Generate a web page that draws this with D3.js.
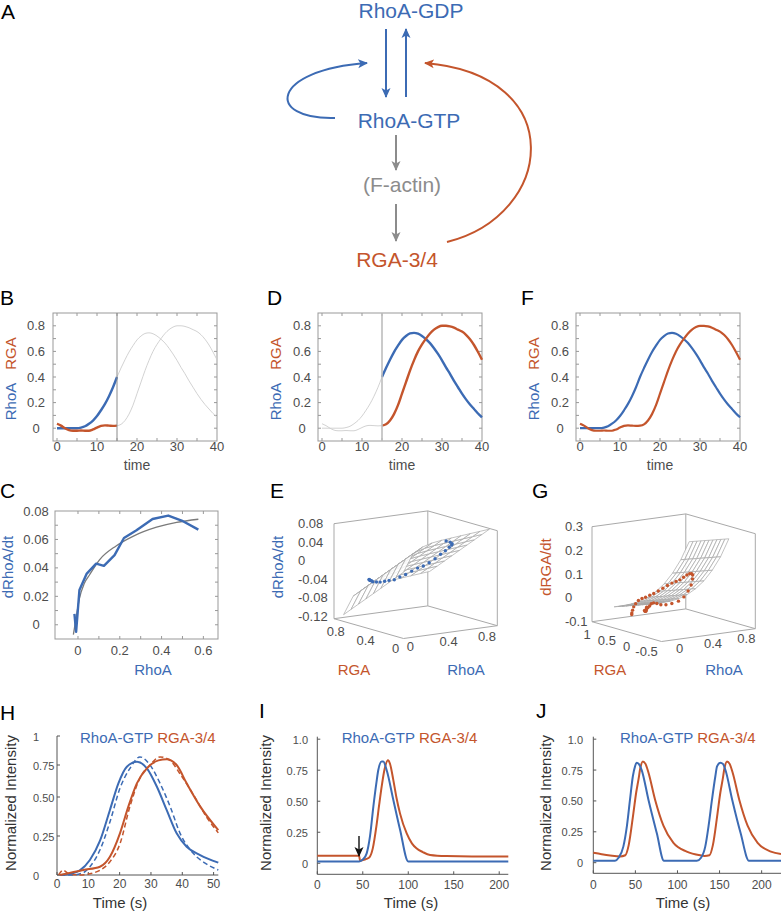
<!DOCTYPE html>
<html>
<head>
<meta charset="utf-8">
<title>RhoA / RGA-3/4 model</title>
<script src="https://cdnjs.cloudflare.com/ajax/libs/d3/7.8.5/d3.min.js"></script>
<style>
  body { margin: 0; background: #fff; }
  svg { display: block; font-family: "Liberation Sans", Arial, Helvetica, sans-serif; }
</style>
</head>
<body>
<div id="fig"></div>
<script>
// ---------- data ----------

// B, D, F : measured RhoA / RGA traces
var timeF = [0,1,2,3,4,5,6,7,8,9,10,11,12,13,14,15,16,17,18,19,20,21,22,23,24,25,26,27,28,29,30,31,32,33,34,35,36,37,38,39,40];
var rhoaF = [0,0,0,0,0,0,0.005,0.015,0.035,0.06,0.095,0.14,0.19,0.25,0.32,0.40,0.47,0.535,0.595,0.645,0.69,0.72,0.74,0.745,0.738,0.72,0.695,0.665,0.625,0.58,0.53,0.475,0.425,0.37,0.32,0.27,0.225,0.185,0.15,0.115,0.085];
var rgaF  = [0.035,0.02,0,-0.015,-0.02,-0.02,-0.018,-0.02,-0.02,-0.01,0.005,0.018,0.022,0.02,0.018,0.02,0.03,0.06,0.11,0.18,0.27,0.36,0.45,0.53,0.6,0.655,0.7,0.74,0.77,0.79,0.8,0.8,0.795,0.785,0.77,0.755,0.73,0.695,0.65,0.595,0.535];

// C : dRhoA/dt vs RhoA (data and saturating fit)
var rhoaC  = [-0.017,-0.009,0.007,0.042,0.087,0.124,0.175,0.22,0.28,0.357,0.432,0.496,0.576];
var dRhoaC = [0.0076,-0.005,0.0245,0.036,0.043,0.0414,0.049,0.061,0.0664,0.0744,0.0768,0.0733,0.0669];
var fitRhoaC  = [-0.022,-0.01,0.007,0.03,0.055,0.103,0.184,0.263,0.376,0.472,0.576];
var fitDRhoaC = [-0.0069,0.004,0.0186,0.029,0.035,0.0457,0.0556,0.0622,0.0686,0.072,0.0742];

// E : fitted surface dRhoA/dt(RhoA, RGA) and data points (t = 16..40)
var gridRhoaE = [0,0.1,0.2,0.3,0.4,0.5,0.6,0.7,0.8,0.9];
var gridRgaE  = [0,0.1,0.2,0.3,0.4,0.5,0.6,0.7,0.8];
var surfE = [
  [0.015,0.052,0.064,0.070,0.073,0.075,0.077,0.079,0.081,0.083],
  [-0.001,0.036,0.048,0.054,0.057,0.059,0.061,0.063,0.065,0.067],
  [-0.017,0.020,0.032,0.038,0.041,0.043,0.045,0.047,0.049,0.051],
  [-0.033,0.004,0.016,0.022,0.025,0.027,0.029,0.031,0.033,0.035],
  [-0.049,-0.012,0.000,0.006,0.009,0.011,0.013,0.015,0.017,0.019],
  [-0.065,-0.028,-0.016,-0.010,-0.007,-0.005,-0.003,-0.001,0.001,0.003],
  [-0.081,-0.044,-0.032,-0.026,-0.023,-0.021,-0.019,-0.017,-0.015,-0.013],
  [-0.097,-0.060,-0.048,-0.042,-0.039,-0.037,-0.035,-0.033,-0.031,-0.029],
  [-0.113,-0.076,-0.064,-0.058,-0.055,-0.053,-0.051,-0.049,-0.047,-0.045]
];
var dotsRhoaE = [0.47,0.535,0.595,0.645,0.69,0.72,0.74,0.745,0.738,0.72,0.695,0.665,0.625,0.58,0.53,0.475,0.425,0.37,0.32,0.27,0.225,0.185,0.15,0.115,0.085];
var dotsRgaE  = [0.03,0.06,0.11,0.18,0.27,0.36,0.45,0.53,0.6,0.655,0.7,0.74,0.77,0.79,0.8,0.8,0.795,0.785,0.77,0.755,0.73,0.695,0.65,0.595,0.535];
var dotsDE    = [0.068,0.0625,0.055,0.0475,0.0375,0.025,0.0125,-0.001,-0.0125,-0.0215,-0.0275,-0.035,-0.0425,-0.0475,-0.0525,-0.0525,-0.0525,-0.0525,-0.05,-0.0475,-0.0425,-0.0375,-0.035,-0.0325,-0.03];

// G : fitted surface dRGA/dt(RhoA, RGA) and data points (t = 0..40)
var gridRhoaG = [0,0.1,0.2,0.3,0.4,0.5,0.6,0.7,0.8,0.9];
var gridRgaG  = [-0.2,-0.1,0,0.1,0.2,0.3,0.4,0.5,0.6,0.7,0.8];
var surfG = [
  [0.024,0.024,0.026,0.032,0.044,0.064,0.092,0.132,0.184,0.255],
  [0.018,0.018,0.020,0.026,0.038,0.058,0.086,0.126,0.178,0.249],
  [0.012,0.012,0.014,0.020,0.032,0.052,0.080,0.120,0.172,0.243],
  [0.006,0.006,0.008,0.014,0.026,0.046,0.074,0.114,0.166,0.237],
  [0.000,0.000,0.002,0.008,0.020,0.040,0.068,0.108,0.160,0.231],
  [-0.006,-0.006,-0.004,0.002,0.014,0.034,0.062,0.102,0.154,0.225],
  [-0.012,-0.012,-0.010,-0.004,0.008,0.028,0.056,0.096,0.148,0.219],
  [-0.018,-0.018,-0.016,-0.010,0.002,0.022,0.050,0.090,0.142,0.213],
  [-0.024,-0.024,-0.022,-0.016,-0.004,0.016,0.044,0.084,0.136,0.207],
  [-0.030,-0.030,-0.028,-0.022,-0.010,0.010,0.038,0.078,0.130,0.201],
  [-0.036,-0.036,-0.034,-0.028,-0.016,0.004,0.032,0.072,0.124,0.195]
];
var dotsDG = [-0.015,-0.018,-0.017,-0.01,-0.003,0.001,0,-0.001,0.005,0.0125,0.014,0.0085,0.001,-0.002,0,0.006,0.02,0.04,0.06,0.08,0.09,0.09,0.085,0.075,0.0625,0.05,0.0425,0.035,0.025,0.015,0.005,-0.0025,-0.0075,-0.0125,-0.015,-0.02,-0.03,-0.04,-0.05,-0.0575,-0.06];

// H : measured (dashed) and model (solid) intensities
var hBlueT = [1,4.7,7.3,10.5,13.7,16.9,19.6,22.3,25.5,28.7,31.9,35,38.2,41.4,45.7,51.5];
var hBlue  = [0,0.01,0.03,0.096,0.218,0.417,0.607,0.737,0.778,0.724,0.58,0.417,0.267,0.181,0.128,0.079];
var hBlueDT = [1,4.7,8.4,10.5,13.7,16.9,20.1,23.3,26.5,29.7,32.9,36.1,39.3,43.5,47.8,51.5];
var hBlueD  = [0,0,0.015,0.053,0.16,0.34,0.568,0.724,0.82,0.75,0.607,0.44,0.267,0.139,0.07,0.032];
var hOrT = [1,8.4,13.7,16.9,20.1,22.8,25.5,28.7,32.4,35,38.2,41.4,45.7,51.5];
var hOr  = [0,0.032,0.053,0.117,0.267,0.44,0.607,0.724,0.79,0.8,0.75,0.607,0.44,0.288];
var hOrDT = [0.5,2,3.6,7.3,11.6,13.7,16.9,20.1,23.3,26.5,29.7,32.9,36.1,39.3,43.5,47.8,51.5];
var hOrD  = [0,0.03,0.01,0,0.013,0.03,0.085,0.2,0.44,0.65,0.75,0.82,0.79,0.68,0.52,0.37,0.27];

// I : single pulse after stimulus
var iBlueT = [0,46,50,54.3,58,61.6,65,67,70.8,72.5,76.3,83.6,91,100,210];
var iBlue  = [0.015,0.015,0.03,0.08,0.22,0.455,0.65,0.75,0.82,0.82,0.75,0.51,0.27,0.015,0.015];
var iOrT = [0,46,47,50,54,57.5,61,65,68,70.8,74,77.7,80,83.6,87,91,98.3,104,109,116,124,142,170,210];
var iOr  = [0.06,0.06,0.02,0.025,0.035,0.05,0.12,0.3,0.47,0.62,0.76,0.83,0.8,0.67,0.53,0.4,0.24,0.16,0.12,0.09,0.067,0.058,0.055,0.055];

// J : oscillations
var jBlueT = [0,25.8,30,35.7,40,43.6,47,49.6,51.6,54,57.5,65.5,75.4,84,123,128,133,137,141,145,147,151,154,157,165,175,185,223];
var jBlue  = [0.015,0.015,0.04,0.13,0.3,0.51,0.7,0.78,0.81,0.8,0.75,0.51,0.24,0.015,0.015,0.04,0.13,0.3,0.51,0.7,0.78,0.81,0.8,0.75,0.51,0.24,0.015,0.015];
var jOrT = [0,10,20,32,38,42,47.6,51,53.6,56,58.8,62,65.5,73.4,83.3,95.2,111,127,132,138,142,147.6,151,153.6,156,158.8,162,165.5,173.4,183.3,195.2,211,223];
var jOr  = [0.08,0.068,0.058,0.05,0.06,0.14,0.40,0.57,0.67,0.77,0.82,0.8,0.73,0.51,0.30,0.16,0.09,0.06,0.055,0.06,0.14,0.40,0.57,0.67,0.77,0.82,0.8,0.73,0.51,0.30,0.16,0.09,0.07];

// ---------- drawing ----------
var blue = "#3c6bb4", orange = "#c4552c", tickCol = "#4d4d4d", frameCol = "#999";

var svg = d3.select("#fig").append("svg").attr("width", 781).attr("height", 914);
svg.append("rect").attr("width", 781).attr("height", 914).attr("fill", "#fff");
var defs = svg.append("defs");

function marker(id, color) {
	defs.append("marker")
		.attr("id", id)
		.attr("viewBox", "0 -5 10 10")
		.attr("refX", 9).attr("refY", 0)
		.attr("markerWidth", 10).attr("markerHeight", 10)
		.attr("markerUnits", "userSpaceOnUse")
		.attr("orient", "auto")
		.append("path")
		.attr("d", "M0,-4.5L10,0L0,4.5L2.5,0Z")
		.attr("fill", color);
}
marker("arBlue", blue);
marker("arOrange", orange);
marker("arGray", "#8c8c8c");
marker("arBlack", "#111");

function txt(g, s, x, y, size, color, anchor) {
	return g.append("text").attr("x", x).attr("y", y)
		.attr("font-size", size).attr("fill", color)
		.attr("text-anchor", anchor || "middle").text(s);
}
function vtxt(g, s, x, y, size, color) {
	return g.append("text").attr("transform", "translate(" + x + "," + y + ") rotate(-90)")
		.attr("font-size", size).attr("fill", color)
		.attr("text-anchor", "middle").text(s);
}

// panel letters
[["A", 1, 19], ["B", 0, 305], ["D", 267, 305], ["F", 521, 305],
 ["C", 0, 498], ["E", 270, 498], ["G", 532, 498],
 ["H", 0, 720], ["I", 259, 718], ["J", 536, 718]].forEach(function(d) {
	txt(svg, d[0], d[1], d[2], 21, "#000", "start");
});

// ---------- A : network diagram ----------
var gA = svg.append("g");
txt(gA, "RhoA-GDP", 411, 18, 21, blue);
txt(gA, "RhoA-GTP", 409, 128, 21, blue);
txt(gA, "(F-actin)", 402, 192, 21, "#8c8c8c");
txt(gA, "RGA-3/4", 397, 267, 21, orange);

var straight = [
	{x1: 386, y1: 29, x2: 386, y2: 97, c: blue, m: "arBlue"},
	{x1: 406, y1: 97, x2: 406, y2: 29, c: blue, m: "arBlue"},
	{x1: 396, y1: 135, x2: 396, y2: 170, c: "#8c8c8c", m: "arGray"},
	{x1: 396, y1: 204, x2: 396, y2: 241, c: "#8c8c8c", m: "arGray"}
];
gA.selectAll(".arrow").data(straight).enter().append("line")
	.attr("x1", function(d) { return d.x1; }).attr("y1", function(d) { return d.y1; })
	.attr("x2", function(d) { return d.x2; }).attr("y2", function(d) { return d.y2; })
	.attr("stroke", function(d) { return d.c; }).attr("stroke-width", 2)
	.attr("marker-end", function(d) { return "url(#" + d.m + ")"; });

gA.append("path").attr("d", "M335,118 C265,120 270,70 367,63")
	.attr("fill", "none").attr("stroke", blue).attr("stroke-width", 2)
	.attr("marker-end", "url(#arBlue)");
gA.append("path").attr("d", "M447,242 C555,215 570,75 425,63")
	.attr("fill", "none").attr("stroke", orange).attr("stroke-width", 2)
	.attr("marker-end", "url(#arOrange)");

// ---------- B, D, F : time courses ----------
function framedTicks(g, x, y, xt, yt) {
	var x0 = x.range()[0], x1 = x.range()[1], y0 = y.range()[0], y1 = y.range()[1];
	g.append("rect").attr("x", x0).attr("y", y1).attr("width", x1 - x0).attr("height", y0 - y1)
		.attr("fill", "none").attr("stroke", frameCol).attr("stroke-width", 1);
	xt.forEach(function(v) {
		g.append("line").attr("x1", x(v)).attr("x2", x(v)).attr("y1", y0).attr("y2", y0 - 3).attr("stroke", frameCol);
		g.append("line").attr("x1", x(v)).attr("x2", x(v)).attr("y1", y1).attr("y2", y1 + 3).attr("stroke", frameCol);
	});
	yt.forEach(function(v) {
		g.append("line").attr("y1", y(v)).attr("y2", y(v)).attr("x1", x0).attr("x2", x0 + 3).attr("stroke", frameCol);
		g.append("line").attr("y1", y(v)).attr("y2", y(v)).attr("x1", x1).attr("x2", x1 - 3).attr("stroke", frameCol);
	});
}

function timePanel(x0, mode, labX) {
	var g = svg.append("g");
	var x = d3.scaleLinear().domain([-1, 40]).range([x0, x0 + 164]);
	var y = d3.scaleLinear().domain([-0.1, 0.9]).range([441, 313]);
	framedTicks(g, x, y, [0, 5, 10, 15, 20, 25, 30, 35], [0, 0.1, 0.2, 0.3, 0.4, 0.5, 0.6, 0.7, 0.8]);

	[0, 10, 20, 30, 40].forEach(function(v) { txt(g, v, x(v), 451, 13, tickCol); });
	[0, 0.2, 0.4, 0.6, 0.8].forEach(function(v) { txt(g, v, labX, y(v) + 4.5, 13, tickCol); });
	txt(g, "time", x0 + 84, 470, 14, tickCol);
	vtxt(g, "RhoA", x0 - 37, 401.5, 15, blue);
	vtxt(g, "RGA", x0 - 37, 353.5, 15, orange);

	var idx = timeF.map(function(d, i) { return i; });
	var early = idx.filter(function(i) { return timeF[i] <= 15; });
	var late = idx.filter(function(i) { return timeF[i] >= 15; });

	function draw(ids, arr, color, w) {
		var line = d3.line().curve(d3.curveMonotoneX)
			.x(function(i) { return x(timeF[i]); })
			.y(function(i) { return y(arr[i]); });
		g.append("path").datum(ids).attr("d", line)
			.attr("fill", "none").attr("stroke", color).attr("stroke-width", w);
	}
	var faint = "#cdcdcd";
	if (mode == "B") {
		draw(late, rhoaF, faint, 0.9); draw(late, rgaF, faint, 0.9);
		draw(early, rhoaF, blue, 2.4); draw(early, rgaF, orange, 2.4);
	} else if (mode == "D") {
		draw(early, rhoaF, faint, 0.9); draw(early, rgaF, faint, 0.9);
		draw(late, rhoaF, blue, 2.4); draw(late, rgaF, orange, 2.4);
	} else {
		draw(idx, rhoaF, blue, 2.2); draw(idx, rgaF, orange, 2.2);
	}
	if (mode != "F") {
		g.append("line").attr("x1", x(15)).attr("x2", x(15)).attr("y1", 313).attr("y2", 441)
			.attr("stroke", mode == "B" ? "#8a8a8a" : "#bdbdbd").attr("stroke-width", mode == "B" ? 1 : 1.6);
	}
}
timePanel(53, "B", 36);
timePanel(318, "D", 302);
timePanel(576, "F", 560);

// ---------- C : dRhoA/dt vs RhoA ----------
(function() {
	var g = svg.append("g");
	var x = d3.scaleLinear().domain([-0.11, 0.67]).range([55, 218]);
	var y = d3.scaleLinear().domain([-0.01, 0.08]).range([639, 511]);
	framedTicks(g, x, y, [0, 0.1, 0.2, 0.3, 0.4, 0.5, 0.6], [0, 0.01, 0.02, 0.03, 0.04, 0.05, 0.06, 0.07]);
	[0, 0.2, 0.4, 0.6].forEach(function(v) { txt(g, v, x(v), 655, 13, tickCol); });
	[0, 0.02, 0.04, 0.06, 0.08].forEach(function(v) { txt(g, v, 36, y(v) + 4.5, 13, tickCol); });
	txt(g, "RhoA", 153, 675, 15, blue);
	vtxt(g, "dRhoA/dt", 13, 567, 15, blue);

	var fit = d3.line().curve(d3.curveMonotoneX)
		.x(function(d, i) { return x(fitRhoaC[i]); })
		.y(function(d, i) { return y(fitDRhoaC[i]); });
	g.append("path").datum(fitRhoaC).attr("d", fit)
		.attr("fill", "none").attr("stroke", "#7a7a7a").attr("stroke-width", 1.3);
	var dat = d3.line()
		.x(function(d, i) { return x(rhoaC[i]); })
		.y(function(d, i) { return y(dRhoaC[i]); });
	g.append("path").datum(rhoaC).attr("d", dat)
		.attr("fill", "none").attr("stroke", blue).attr("stroke-width", 2.4).attr("stroke-linejoin", "round");
})();

// ---------- E, G : 3-D surfaces ----------
function panel3d(o) {
	var g = svg.append("g");
	var fr = d3.scaleLinear().domain(o.rDom).range([0, 1]);
	var fg = d3.scaleLinear().domain(o.gDom).range([0, 1]);
	var fz = d3.scaleLinear().domain(o.zDom).range([0, 1]);
	function P(r, q, z) {
		var a = fr(r), b = fg(q), c = fz(z);
		return [o.fx + a * 93.8 - b * 69.5, o.fy - a * 12.8 - b * 19.8 - c * 95];
	}
	var R = o.rDom, G = o.gDom, Z = o.zDom;
	var edges = [
		[[R[0], G[1], Z[0]], [R[0], G[1], Z[1]]],
		[[R[1], G[1], Z[0]], [R[1], G[1], Z[1]]],
		[[R[1], G[0], Z[0]], [R[1], G[0], Z[1]]],
		[[R[0], G[1], Z[1]], [R[1], G[1], Z[1]]],
		[[R[1], G[1], Z[1]], [R[1], G[0], Z[1]]],
		[[R[0], G[1], Z[0]], [R[1], G[1], Z[0]]],
		[[R[1], G[1], Z[0]], [R[1], G[0], Z[0]]],
		[[R[0], G[1], Z[0]], [R[0], G[0], Z[0]]],
		[[R[0], G[0], Z[0]], [R[1], G[0], Z[0]]]
	];
	edges.forEach(function(e) {
		var a = P.apply(null, e[0]), b = P.apply(null, e[1]);
		g.append("line").attr("x1", a[0]).attr("y1", a[1]).attr("x2", b[0]).attr("y2", b[1])
			.attr("stroke", "#a9a9a9").attr("stroke-width", 1);
	});

	// mesh cells, far ones first
	var cells = [];
	for (var i = 0; i < o.gGrid.length - 1; i++) {
		for (var j = 0; j < o.rGrid.length - 1; j++) {
			var pts = [[j, i], [j + 1, i], [j + 1, i + 1], [j, i + 1]].map(function(p) {
				return [o.rGrid[p[0]], o.gGrid[p[1]], o.surf[p[1]][p[0]]];
			});
			var depth = d3.mean(pts, function(p) { return fr(p[0]) + fg(p[1]) - 0.5 * fz(p[2]); });
			cells.push({pts: pts, depth: depth});
		}
	}
	cells.sort(function(a, b) { return b.depth - a.depth; });
	g.selectAll(".cell").data(cells).enter().append("path")
		.attr("d", function(d) {
			return "M" + d.pts.map(function(p) { return P(p[0], p[1], p[2]).join(","); }).join("L") + "Z";
		})
		.attr("fill", "#fff").attr("fill-opacity", 0.85)
		.attr("stroke", "#a8a8a8").attr("stroke-width", 0.7);

	g.selectAll(".dot").data(o.dz).enter().append("circle")
		.attr("cx", function(d, i) { return P(o.dr[i], o.dg[i], d)[0]; })
		.attr("cy", function(d, i) { return P(o.dr[i], o.dg[i], d)[1]; })
		.attr("r", 1.7).attr("fill", o.color);

	o.zTicks.forEach(function(v) { txt(g, v, o.zLabX, P(R[0], G[1], v)[1] + 4.5, 13, tickCol, "start"); });
	o.gTicks.forEach(function(v) { var p = P(R[0], v, Z[0]); txt(g, v, p[0] - 5, p[1] + o.gLabDy, 13, tickCol); });
	o.rTicks.forEach(function(v) { var p = P(v, G[0], Z[0]); txt(g, v, p[0] + 4, p[1] + 13, 13, tickCol); });
	txt(g, "RGA", o.gLab, 675, 15, orange);
	txt(g, "RhoA", o.rLab, 675, 15, blue);
	vtxt(g, o.zName, o.zNameX, 567, 15, o.color);
}

panel3d({
	fx: 403.5, fy: 638.5, rDom: [-0.03, 0.95], gDom: [-0.04, 0.89], zDom: [-0.125, 0.08],
	rGrid: gridRhoaE, gGrid: gridRgaE, surf: surfE,
	dr: dotsRhoaE, dg: dotsRgaE, dz: dotsDE, color: blue,
	zTicks: [0.08, 0.04, 0, -0.04, -0.08, -0.12], gTicks: [0.8, 0.4, 0], rTicks: [0, 0.4, 0.8],
	zLabX: 298, gLab: 354, rLab: 466, gLabDy: 15.5, zName: "dRhoA/dt", zNameX: 283
});
panel3d({
	fx: 661.5, fy: 641.5, rDom: [-0.17, 0.955], gDom: [-0.75, 1.0], zDom: [-0.1, 0.3],
	rGrid: gridRhoaG, gGrid: gridRgaG, surf: surfG,
	dr: rhoaF, dg: rgaF, dz: dotsDG, color: orange,
	zTicks: [0.3, 0.2, 0.1, 0, -0.1], gTicks: [1, 0.5, 0, -0.5], rTicks: [0, 0.4, 0.8],
	zLabX: 565, gLab: 610, rLab: 724, gLabDy: 17.5, zName: "dRGA/dt", zNameX: 551
});

// ---------- H, I, J : normalized intensity ----------
function intensityPanel(o) {
	var g = svg.append("g");
	var x = d3.scaleLinear().domain(o.xDom).range(o.xRange);
	var y = d3.scaleLinear().domain(o.yDom).range(o.yRange);
	var ax = "#555";
	var yBot = o.yRange[0], xL = o.xRange[0];
	g.append("line").attr("x1", xL).attr("x2", xL).attr("y1", yBot).attr("y2", o.yTop).attr("stroke", ax);
	g.append("line").attr("x1", xL).attr("x2", o.xRange[1]).attr("y1", yBot).attr("y2", yBot).attr("stroke", ax);
	o.xTicks.forEach(function(v) {
		g.append("line").attr("x1", x(v)).attr("x2", x(v)).attr("y1", yBot).attr("y2", yBot - 3).attr("stroke", ax);
		txt(g, v, x(v), o.xLabY, 12, tickCol);
	});
	o.yTicks.forEach(function(v, i) {
		g.append("line").attr("x1", xL).attr("x2", xL + 3).attr("y1", y(v)).attr("y2", y(v)).attr("stroke", ax);
		txt(g, o.yLabels[i], o.yLabX, y(v) + 4.5, 11, tickCol, o.yAnchor);
	});
	txt(g, "Time (s)", o.timeX, 908, 15, "#333");
	vtxt(g, "Normalized Intensity", o.nameX, 803, 15, "#333");
	var t = g.append("text").attr("x", o.titleX).attr("y", 742.7).attr("font-size", 15);
	t.append("tspan").attr("fill", blue).text("RhoA-GTP");
	t.append("tspan").attr("fill", orange).text(" RGA-3/4");

	o.series.forEach(function(s) {
		var line = d3.line().curve(d3.curveMonotoneX)
			.x(function(d, i) { return x(s.t[i]); })
			.y(function(d) { return y(d); });
		g.append("path").datum(s.v).attr("d", line)
			.attr("fill", "none").attr("stroke", s.c).attr("stroke-width", s.dash ? 1.5 : 2)
			.attr("stroke-dasharray", s.dash ? "5,3" : null);
	});
	return g;
}

intensityPanel({
	xDom: [0, 51.5], xRange: [57, 218.3],
	yDom: [0, 0.25, 0.5, 0.75, 1], yRange: [875, 836, 797, 765, 736], yTop: 736,
	xTicks: [0, 10, 20, 30, 40, 50], xLabY: 888,
	yTicks: [0, 0.25, 0.5, 0.75, 1], yLabels: ["0", "0.25", "0.50", "0.75", "1"], yLabX: 33, yAnchor: "start",
	timeX: 120, nameX: 16, titleX: 80,
	series: [
		{t: hBlueDT, v: hBlueD, c: blue, dash: true},
		{t: hOrDT, v: hOrD, c: orange, dash: true},
		{t: hBlueT, v: hBlue, c: blue},
		{t: hOrT, v: hOr, c: orange}
	]
});

var gI = intensityPanel({
	xDom: [0, 210], xRange: [317.3, 508.3],
	yDom: [-0.089, 1.02], yRange: [874.3, 736.7], yTop: 736.7,
	xTicks: [0, 50, 100, 150, 200], xLabY: 889,
	yTicks: [0, 0.25, 0.5, 0.75, 1], yLabels: ["0", "0.25", "0.50", "0.75", "1.0"], yLabX: 308, yAnchor: "end",
	timeX: 411, nameX: 271, titleX: 341.7,
	series: [
		{t: iOrT, v: iOr, c: orange},
		{t: iBlueT, v: iBlue, c: blue}
	]
});
// stimulus arrow
gI.append("line").attr("x1", 359).attr("x2", 359).attr("y1", 836).attr("y2", 856)
	.attr("stroke", "#111").attr("stroke-width", 1.4).attr("marker-end", "url(#arBlack)");

intensityPanel({
	xDom: [0, 223], xRange: [593.3, 781],
	yDom: [-0.086, 1.02], yRange: [873.3, 736.7], yTop: 736.7,
	xTicks: [0, 50, 100, 150, 200], xLabY: 889,
	yTicks: [0, 0.25, 0.5, 0.75, 1], yLabels: ["0", "0.25", "0.50", "0.75", "1.0"], yLabX: 583, yAnchor: "end",
	timeX: 683, nameX: 551, titleX: 620,
	series: [
		{t: jOrT, v: jOr, c: orange},
		{t: jBlueT, v: jBlue, c: blue}
	]
});
</script>
</body>
</html>
